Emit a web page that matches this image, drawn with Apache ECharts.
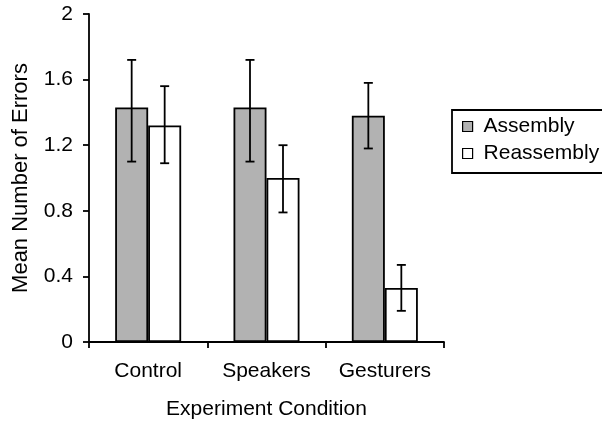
<!DOCTYPE html>
<html>
<head>
<meta charset="utf-8">
<script src="https://cdn.jsdelivr.net/npm/echarts@6/dist/echarts.min.js"></script>
<style>
html,body{margin:0;padding:0;background:#fff;}
#chart{width:602px;height:425px;}
</style>
</head>
<body>
<div id="chart"></div>
<script>
const categories = ['Control', 'Speakers', 'Gesturers'];
const seriesNames = ['Assembly', 'Reassembly'];
const assembly = [1.43, 1.43, 1.38];
const assemblyLow = [1.10, 1.10, 1.18];
const assemblyHigh = [1.72, 1.72, 1.58];
const reassembly = [1.32, 1.00, 0.33];
const reassemblyLow = [1.09, 0.79, 0.19];
const reassemblyHigh = [1.56, 1.20, 0.47];
const yTicks = [0, 0.4, 0.8, 1.2, 1.6, 2];

const FONT = 'Liberation Sans, Arial, Helvetica, sans-serif';
const BAR_W = 33;
const GRAY = '#b2b2b2';

function errData(low, high) {
  return categories.map((c, i) => [i, low[i], high[i]]);
}
function errRender(offset) {
  return function (params, api) {
    const x = api.value(0);
    const lo = api.coord([x, api.value(1)]);
    const hi = api.coord([x, api.value(2)]);
    const cx = lo[0] + offset;
    const half = 4.5;
    const style = { stroke: '#000', lineWidth: 1.8 };
    return {
      type: 'group',
      children: [
        { type: 'line', shape: { x1: cx, y1: hi[1], x2: cx, y2: lo[1] }, style: style },
        { type: 'line', shape: { x1: cx - half, y1: hi[1], x2: cx + half, y2: hi[1] }, style: style },
        { type: 'line', shape: { x1: cx - half, y1: lo[1], x2: cx + half, y2: lo[1] }, style: style }
      ]
    };
  };
}

const chart = echarts.init(document.getElementById('chart'), null, { renderer: 'canvas' });
chart.setOption({
  animation: false,
  backgroundColor: '#fff',
  textStyle: { fontFamily: FONT, color: '#000' },
  grid: { left: 89, top: 14, width: 355, height: 331, containLabel: false },
  legend: {
    orient: 'vertical',
    left: 452,
    top: 110,
    borderColor: '#000',
    borderWidth: 1.8,
    padding: [6, 8, 9, 10],
    itemWidth: 10,
    itemHeight: 10,
    itemGap: 6,
    icon: 'rect',
    textStyle: { fontFamily: FONT, fontSize: 21, color: '#000', padding: [0, 0, 0, 6] },
    data: [
      { name: seriesNames[0], itemStyle: { color: GRAY, borderColor: '#000', borderWidth: 1.2 } },
      { name: seriesNames[1], itemStyle: { color: '#fff', borderColor: '#000', borderWidth: 1.2 } }
    ]
  },
  xAxis: {
    type: 'category',
    data: categories,
    name: 'Experiment Condition',
    nameLocation: 'middle',
    nameGap: 57,
    nameTextStyle: { fontFamily: FONT, fontSize: 21, color: '#000' },
    axisLine: { lineStyle: { color: '#000', width: 1.8 } },
    axisTick: { show: true, length: 6, lineStyle: { color: '#000', width: 1.8 } },
    axisLabel: { fontFamily: FONT, fontSize: 21, color: '#000', margin: 19, interval: 0, hideOverlap: false },
    splitLine: { show: false }
  },
  yAxis: {
    type: 'value',
    min: yTicks[0],
    max: yTicks[yTicks.length - 1],
    interval: yTicks[1] - yTicks[0],
    name: 'Mean Number of Errors',
    nameLocation: 'middle',
    nameGap: 57,
    nameTextStyle: { fontFamily: FONT, fontSize: 22, color: '#000' },
    axisLine: { show: true, lineStyle: { color: '#000', width: 1.8 } },
    axisTick: { show: true, length: 6, lineStyle: { color: '#000', width: 1.8 } },
    axisLabel: { fontFamily: FONT, fontSize: 21, color: '#000', margin: 16 },
    splitLine: { show: false }
  },
  series: [
    {
      name: seriesNames[0],
      type: 'bar',
      data: assembly,
      barWidth: BAR_W,
      barGap: '0%',
      itemStyle: { color: GRAY, borderColor: '#000', borderWidth: 1.8 }
    },
    {
      name: seriesNames[1],
      type: 'bar',
      data: reassembly,
      barWidth: BAR_W,
      barGap: '0%',
      itemStyle: { color: '#fff', borderColor: '#000', borderWidth: 1.8 }
    },
    {
      type: 'custom',
      renderItem: errRender(-BAR_W / 2),
      data: errData(assemblyLow, assemblyHigh),
      encode: { x: 0, y: [1, 2] },
      z: 10,
      silent: true
    },
    {
      type: 'custom',
      renderItem: errRender(BAR_W / 2),
      data: errData(reassemblyLow, reassemblyHigh),
      encode: { x: 0, y: [1, 2] },
      z: 10,
      silent: true
    }
  ]
});
</script>
</body>
</html>
